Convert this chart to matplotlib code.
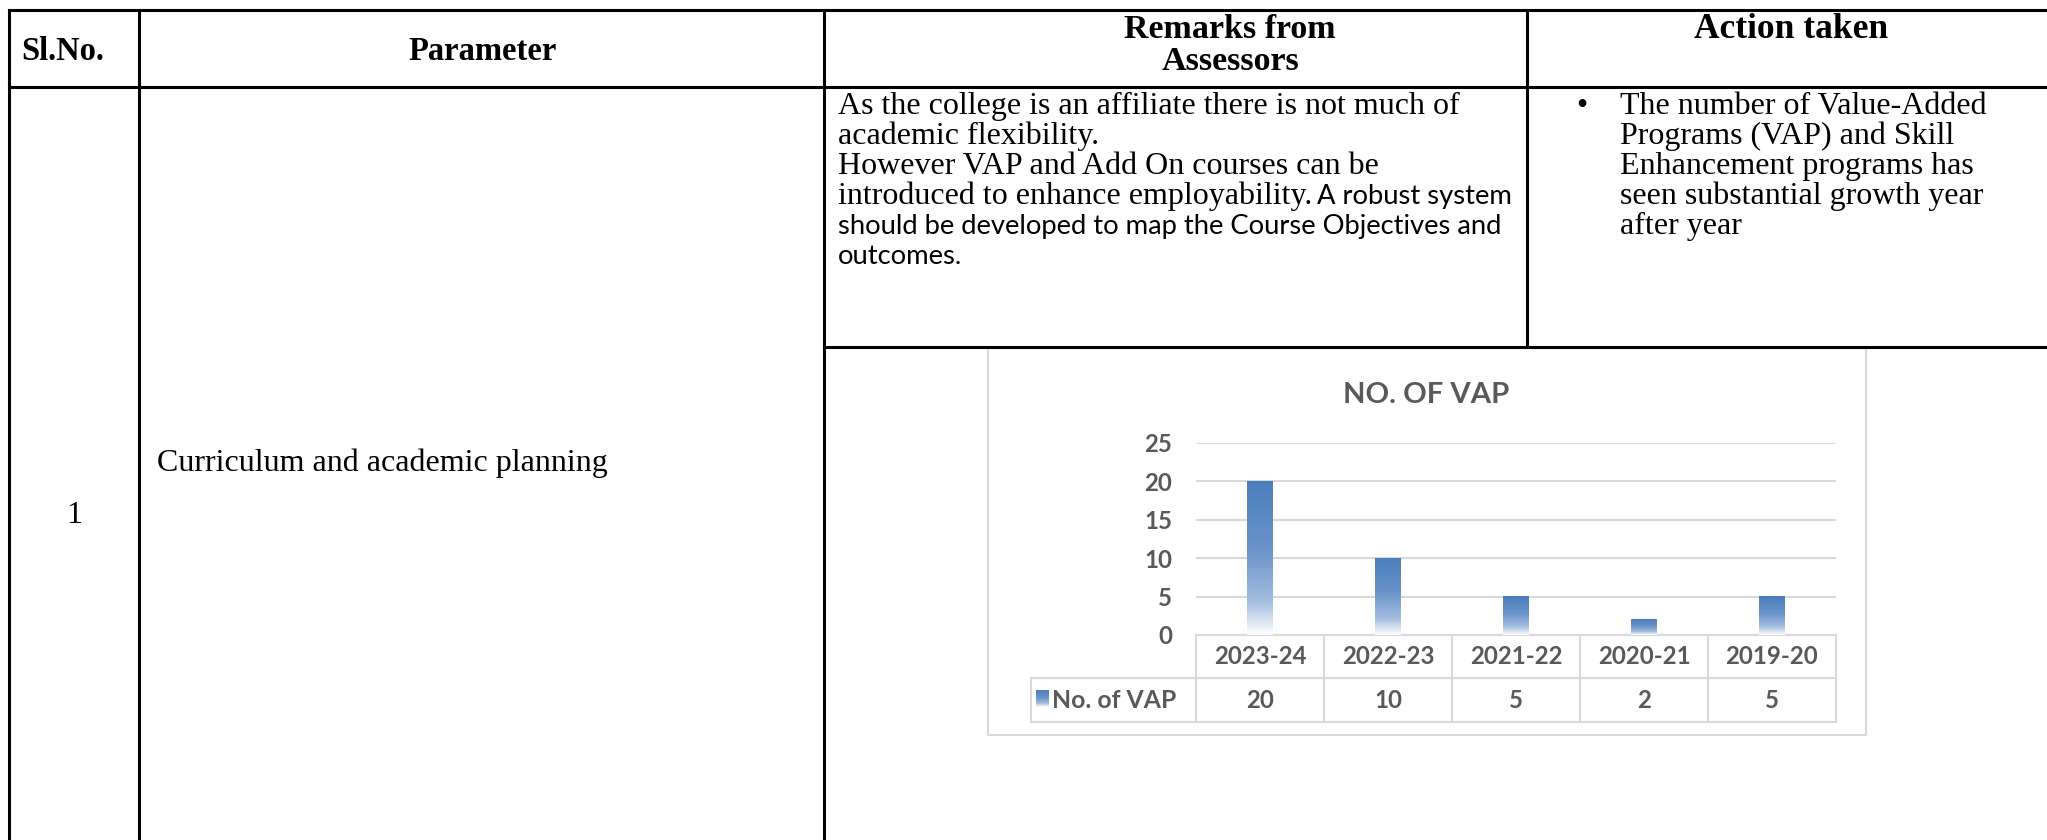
import numpy as np
import matplotlib
matplotlib.use("Agg")
import matplotlib.pyplot as plt
from matplotlib.colors import LinearSegmentedColormap
from matplotlib.patches import Rectangle
from matplotlib.transforms import blended_transform_factory

# ------------------------------
# Data
# ------------------------------
years = ["2023-24", "2022-23", "2021-22", "2020-21", "2019-20"]
vap_counts = [20, 10, 5, 2, 5]
y_ticks = [0, 5, 10, 15, 20, 25]
series_name = "No. of VAP"
chart_title = "NO. OF VAP"

sl_no = "1"
parameter = "Curriculum and academic planning"
remarks_serif = [
    "As the college is an affiliate there is not much of",
    "academic flexibility.",
    "However VAP and Add On courses can be",
    "introduced to enhance employability.",
]
remarks_sans = [
    "A robust system",
    "should be developed to map the Course Objectives and",
    "outcomes.",
]
action_lines = [
    "The number of Value-Added",
    "Programs (VAP) and Skill",
    "Enhancement programs has",
    "seen substantial growth year",
    "after year",
]

# ------------------------------
# Page setup (pixel coordinates, y down)
# ------------------------------
W, H = 2047, 840
SERIF = "Liberation Serif"
SANS = "Lato"
GREY = "#595959"
LINE = "#d9d9d9"

fig = plt.figure(figsize=(W / 100, H / 100), dpi=100)
page = fig.add_axes([0, 0, 1, 1])
page.set_xlim(0, W)
page.set_ylim(H, 0)
page.axis("off")
renderer = fig.canvas.get_renderer()


def fit(t, width):
    # rescale a text so its rendered width matches the reference
    bb = t.get_window_extent(renderer)
    t.set_fontsize(t.get_fontsize() * width / bb.width)
    return t.get_fontsize()


# chart frame (sits inside the lower right cell)
page.add_patch(Rectangle((988, 348), 878, 387, facecolor="white",
                         edgecolor=LINE, lw=1.5, zorder=1))

# table rules
kw = dict(color="black", lw=2.2, zorder=3)
page.plot([9, W], [10, 10], **kw)
page.plot([9, W], [87, 87], **kw)
page.plot([824, W], [347, 347], **kw)
for xl in (9, 139, 824):
    page.plot([xl, xl], [10, H], **kw)
page.plot([1527, 1527], [10, 347], **kw)

# header row
hk = dict(family=SERIF, weight="bold", va="center")
page.text(21, 52, "Sl.No.", ha="left", fontsize=23.5, **hk)
page.text(483, 52, "Parameter", ha="center", fontsize=23.5, **hk)
page.text(1230, 30, "Remarks from", ha="center", fontsize=24.5, **hk)
page.text(1230, 61, "Assessors", ha="center", fontsize=24.5, **hk)
page.text(1791, 30, "Action taken", ha="center", fontsize=25.5, **hk)

# body row
bk = dict(family=SERIF, fontsize=23, va="baseline")
page.text(74, 523, sl_no, ha="center", **bk)
page.text(157, 471, parameter, ha="left", **bk)

line_y = [114 + 30 * i for i in range(6)]
for i, s in enumerate(remarks_serif):
    t = page.text(838, line_y[i], s, ha="left", **bk)
end_x = page.transData.inverted().transform(
    (t.get_window_extent(renderer).x1, 0))[0]

sk = dict(family=SANS, va="baseline", fontsize=20)
probe = page.text(838, line_y[4], remarks_sans[1], ha="left", **sk)
sans_fs = fit(probe, 666)
page.text(end_x + 5, line_y[3], remarks_sans[0], ha="left",
          family=SANS, va="baseline", fontsize=sans_fs)
page.text(838, line_y[5], remarks_sans[2], ha="left",
          family=SANS, va="baseline", fontsize=sans_fs)

page.text(1582, line_y[0], "\u2022", ha="center", **bk)
for i, s in enumerate(action_lines):
    page.text(1620, line_y[i], s, ha="left", **bk)

# ------------------------------
# Embedded bar chart
# ------------------------------
ck = dict(family=SANS, weight="bold", color=GREY)
title = page.text(1426, 395, chart_title, ha="center", va="center",
                  fontsize=20, **ck)
fit(title, 166)

ax = fig.add_axes([1196 / W, 1 - 635 / H, 640 / W, 192 / H])
ax.patch.set_visible(False)
x = np.arange(len(years))
bars = ax.bar(x, vap_counts, width=0.2, color="none", zorder=3)

cmap = LinearSegmentedColormap.from_list(
    "vap", [(0, "#4a7ebb"), (0.45, "#6b94c9"), (0.78, "#a3bde0"), (1, "#ffffff")])
grad = np.linspace(0, 1, 256).reshape(-1, 1)
for b in bars:
    ax.imshow(grad, cmap=cmap, aspect="auto", origin="upper", zorder=3,
              extent=[b.get_x(), b.get_x() + b.get_width(), 0, b.get_height()])

ax.set_xlim(-0.5, len(years) - 0.5)
ax.set_ylim(y_ticks[0], y_ticks[-1])
ax.set_yticks(y_ticks)
ax.set_xticks([])
ax.grid(axis="y", color=LINE, lw=1.5)
ax.set_axisbelow(True)
for sp in ax.spines.values():
    sp.set_visible(False)

# data table under the plot
tr = blended_transform_factory(ax.transData, page.transData)
LEG_LEFT = -1.79
lk = dict(color=LINE, lw=1.5, transform=tr, clip_on=False)
ax.plot([-0.5, len(years) - 0.5], [635, 635], **lk)
ax.plot([LEG_LEFT, len(years) - 0.5], [678, 678], **lk)
ax.plot([LEG_LEFT, len(years) - 0.5], [722, 722], **lk)
for xb in np.arange(-0.5, len(years)):
    ax.plot([xb, xb], [635, 722], **lk)
ax.plot([LEG_LEFT, LEG_LEFT], [678, 722], **lk)

first = ax.text(0, 657, years[0], transform=tr, ha="center", va="center",
                fontsize=16, **ck)
chart_fs = fit(first, 92)
for i in range(1, len(years)):
    ax.text(i, 657, years[i], transform=tr, ha="center", va="center",
            fontsize=chart_fs, **ck)
for i, v in enumerate(vap_counts):
    ax.text(i, 700, str(v), transform=tr, ha="center", va="center",
            fontsize=chart_fs, **ck)
leg = ax.text(LEG_LEFT + 0.165, 700, series_name, transform=tr, ha="left",
              va="center", fontsize=chart_fs, **ck)
fit(leg, 124)

ax.tick_params(axis="y", length=0, pad=17, labelcolor=GREY, labelsize=chart_fs)
for lbl in ax.get_yticklabels():
    lbl.set_fontfamily(SANS)
    lbl.set_fontweight("bold")

# legend swatch
page.imshow(grad, cmap=cmap, aspect="auto", origin="upper", zorder=4,
            extent=[1036, 1049, 707, 690])
page.set_xlim(0, W)
page.set_ylim(H, 0)

fig.savefig("out.png", dpi=100)
